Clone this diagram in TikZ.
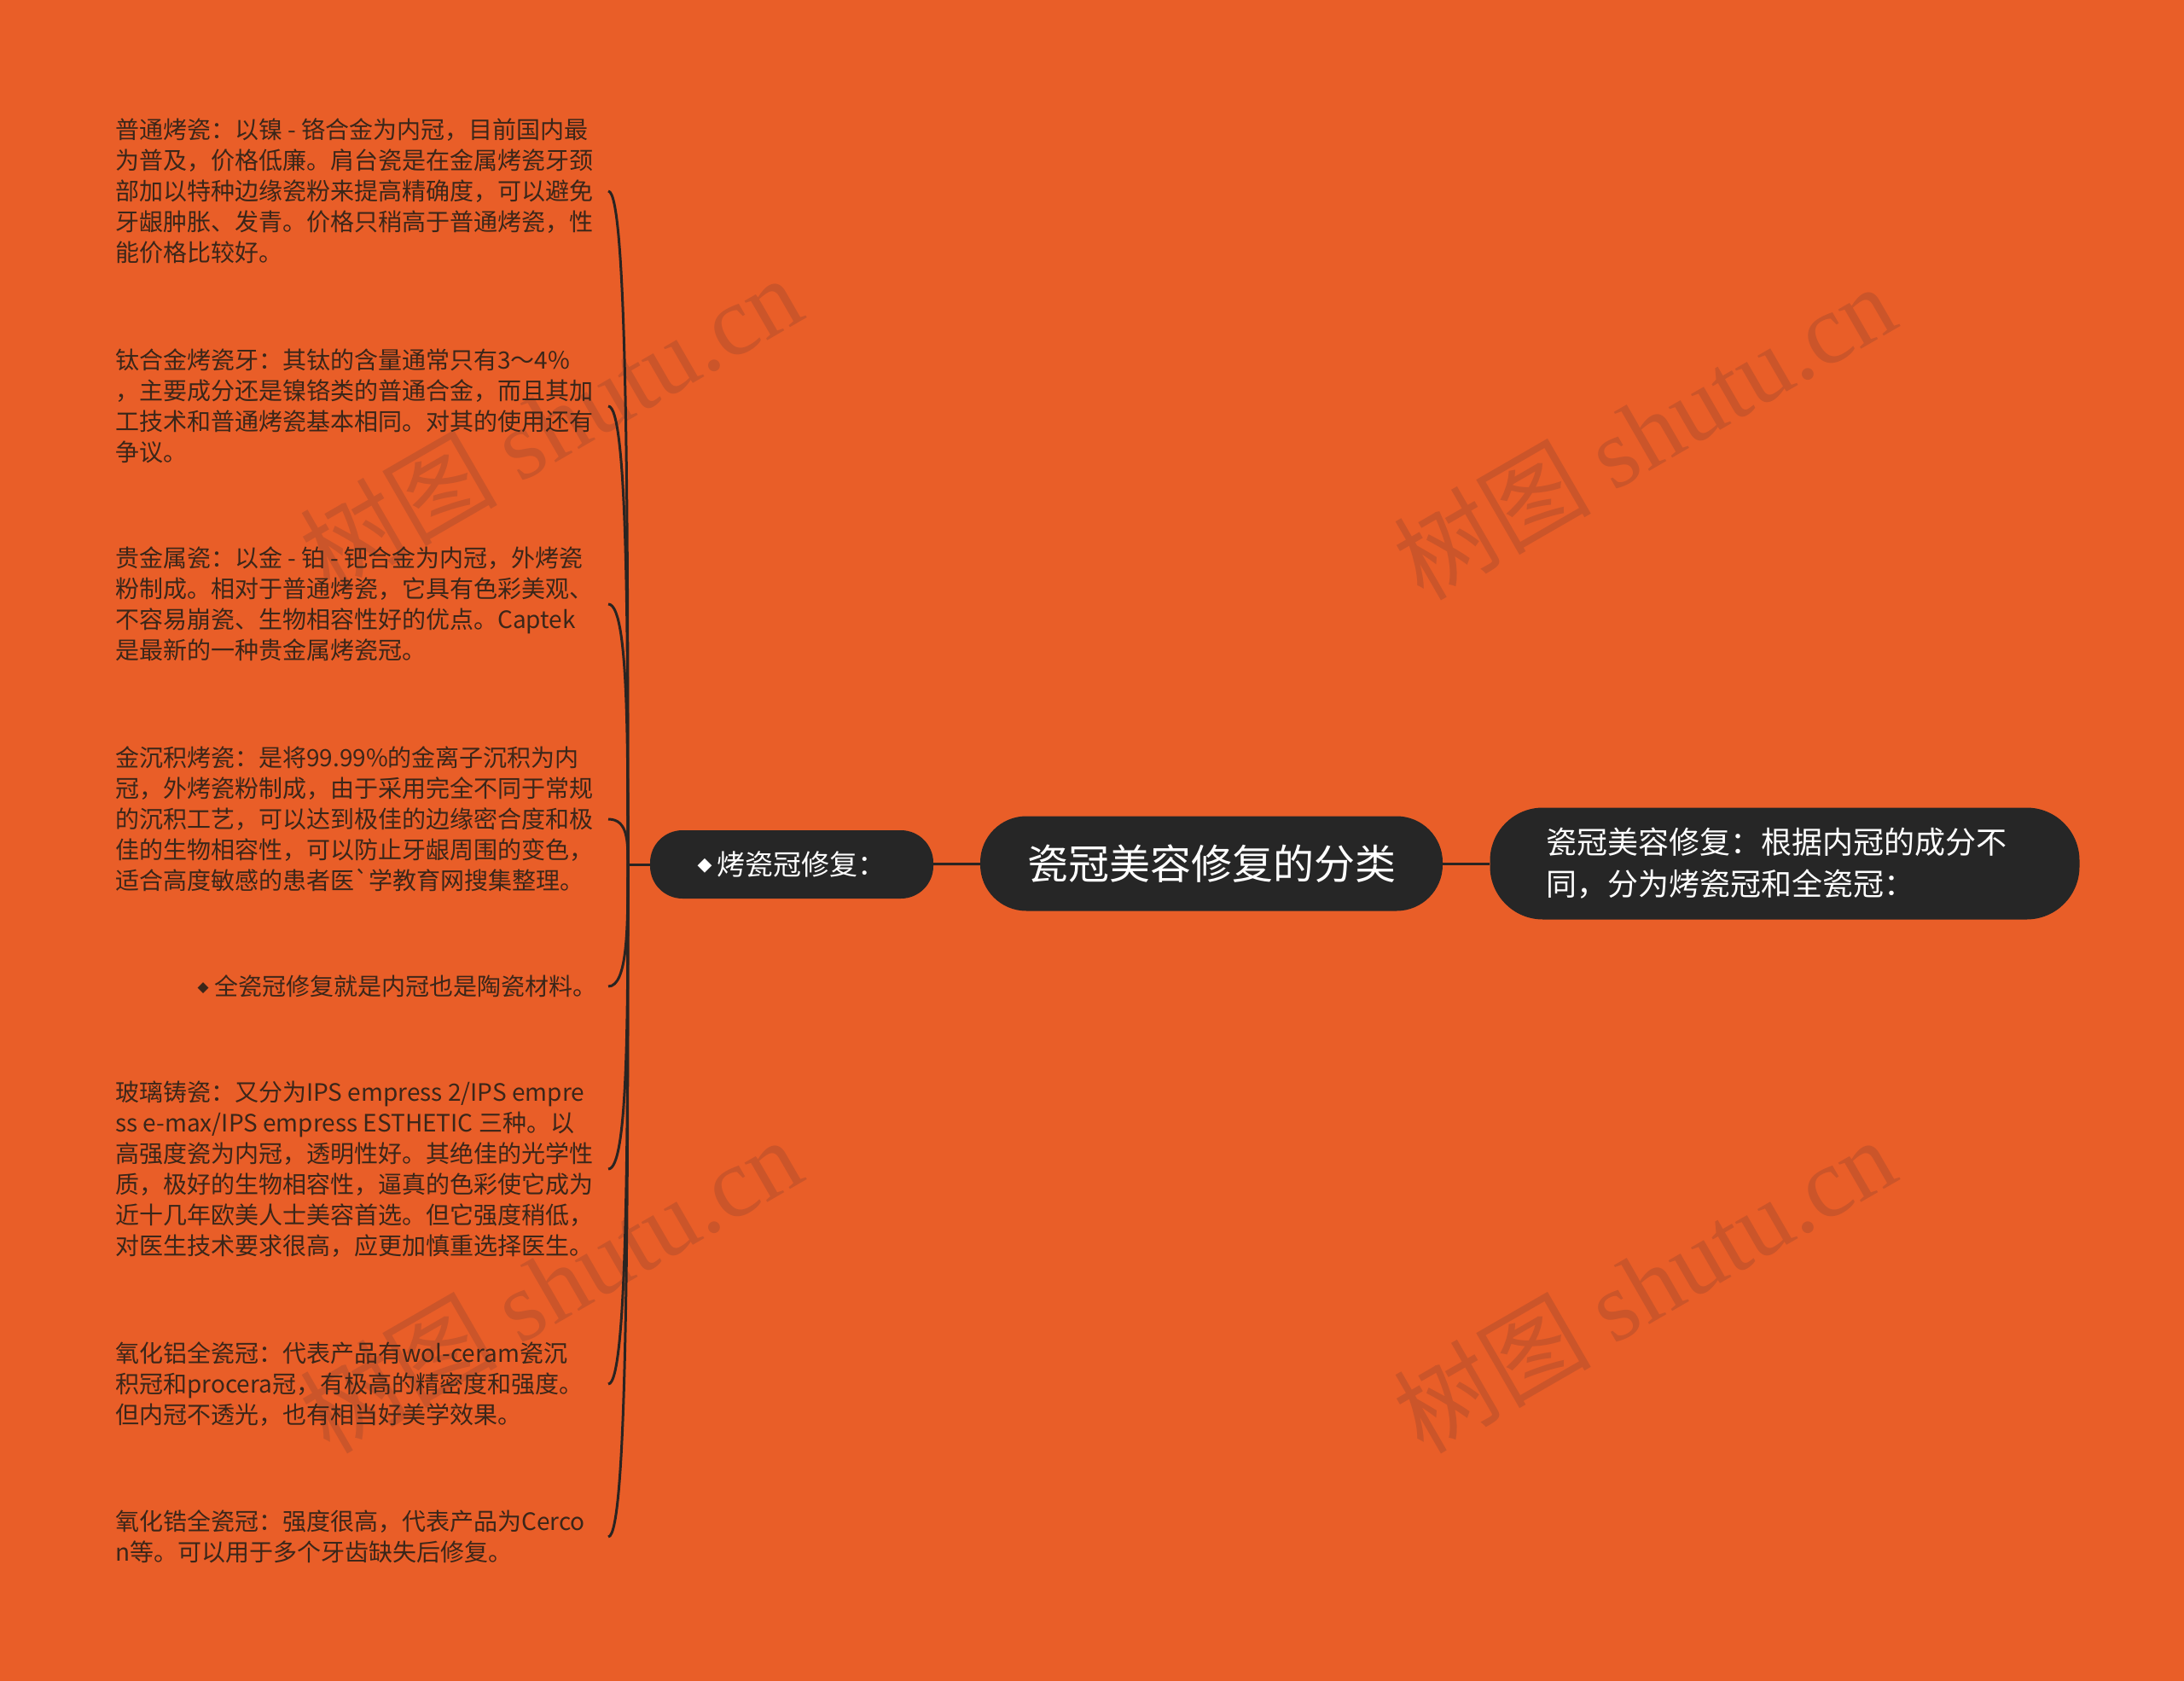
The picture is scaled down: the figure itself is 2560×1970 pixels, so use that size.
\documentclass[tikz,border=0pt]{standalone}
\usepackage{fontspec}
\setmainfont{Noto Sans CJK SC}[Ligatures=TeXOff]
\newfontfamily\diafont{DejaVu Sans}
\newfontfamily\stampfont{Liberation Serif}
\usepackage{tikz}
\usetikzlibrary{calc}

\definecolor{bgorange}{HTML}{E95E28}
\definecolor{boxgray}{HTML}{262626}
\definecolor{inkbrown}{HTML}{3B2619}
\definecolor{stemgray}{HTML}{2A2421}
\definecolor{markorange}{HTML}{CB552A}

\tikzset{
    topic/.style={fill=boxgray, text=white, inner sep=0pt},
    detail/.style={anchor=west, align=left, inner sep=0pt, text=inkbrown, font=\fontsize{28}{36}\selectfont},
    branch/.style={draw=stemgray, line width=3pt},
    stamp/.style={text=markorange, rotate=30, font=\fontsize{116}{116}\selectfont},
}

\begin{document}
\begin{tikzpicture}[x=1pt, y=-1pt]
            \fill[bgorange] (0,0) rectangle (2560,1970);
            \useasboundingbox (0,0) rectangle (2560,1970);

            % watermarks
            \node[stamp] (mark1) at (645,495) {树图 {\stampfont shutu.cn}};
            \node[stamp] (mark2) at (1927,505) {树图 {\stampfont shutu.cn}};
            \node[stamp] (mark3) at (645,1505) {树图 {\stampfont shutu.cn}};
            \node[stamp] (mark4) at (1927,1505) {树图 {\stampfont shutu.cn}};

            \node[topic, minimum width=542, minimum height=111, rounded corners=54, font=\fontsize{48}{56}\selectfont] (root) at (1420,1012) {瓷冠美容修复的分类};
            \node[topic, minimum width=691, minimum height=131, rounded corners=62, align=left, font=\fontsize{36}{49}\selectfont] (summary) at (2092,1012) {瓷冠美容修复：根据内冠的成分不\hspace*{20pt}\\同，分为烤瓷冠和全瓷冠：};
            \node[topic, minimum width=332, minimum height=80, rounded corners=38, font=\fontsize{33}{40}\selectfont] (porcelain) at (928,1013) {\raisebox{5pt}{\diafont\fontsize{22}{22}\selectfont ◆}\hspace{6pt}烤瓷冠修复：};

            \node[detail] (common) at (135,224) {普通烤瓷：以镍 - 铬合金为内冠，目前国内最\\为普及，价格低廉。肩台瓷是在金属烤瓷牙颈\\部加以特种边缘瓷粉来提高精确度，可以避免\\牙龈肿胀、发青。价格只稍高于普通烤瓷，性\\能价格比较好。};
            \node[detail] (titanium) at (135,476) {钛合金烤瓷牙：其钛的含量通常只有3～4\%\\，主要成分还是镍铬类的普通合金，而且其加\\工技术和普通烤瓷基本相同。对其的使用还有\\争议。};
            \node[detail] (precious) at (135,708) {贵金属瓷：以金 - 铂 - 钯合金为内冠，外烤瓷\\粉制成。相对于普通烤瓷，它具有色彩美观、\\不容易崩瓷、生物相容性好的优点。Captek\\是最新的一种贵金属烤瓷冠。};
            \node[detail] (gold) at (135,960) {金沉积烤瓷：是将99.99\%的金离子沉积为内\\冠，外烤瓷粉制成，由于采用完全不同于常规\\的沉积工艺，可以达到极佳的边缘密合度和极\\佳的生物相容性，可以防止牙龈周围的变色，\\适合高度敏感的患者医`学教育网搜集整理。};
            \node[detail, anchor=east] (allceramic) at (700,1156) {\raisebox{4pt}{\diafont\fontsize{17}{17}\selectfont ◆}\hspace{7pt}全瓷冠修复就是内冠也是陶瓷材料。};
            \node[detail] (glass) at (135,1370) {玻璃铸瓷：又分为IPS empress 2/IPS empre\\ss e-max/IPS empress ESTHETIC 三种。以\\高强度瓷为内冠，透明性好。其绝佳的光学性\\质，极好的生物相容性，逼真的色彩使它成为\\近十几年欧美人士美容首选。但它强度稍低，\\对医生技术要求很高，应更加慎重选择医生。};
            \node[detail] (alumina) at (135,1622) {氧化铝全瓷冠：代表产品有wol-ceram瓷沉\\积冠和procera冠，有极高的精密度和强度。\\但内冠不透光，也有相当好美学效果。};
            \node[detail] (zirconia) at (135,1801) {氧化锆全瓷冠：强度很高，代表产品为Cerco\\n等。可以用于多个牙齿缺失后修复。};

            \coordinate (fork) at (736,1013);
            \coordinate (tips) at (713,0);

            \draw[branch] (root) -- (summary);
            \draw[branch] (root) -- (porcelain);
            \draw[branch] (porcelain.west) -- (fork);
            \draw[branch] (fork) .. controls ($(fork)!0.5!(fork |- common)$) and (fork |- common) .. (common -| tips);
            \draw[branch] (fork) .. controls ($(fork)!0.5!(fork |- titanium)$) and (fork |- titanium) .. (titanium -| tips);
            \draw[branch] (fork) .. controls ($(fork)!0.5!(fork |- precious)$) and (fork |- precious) .. (precious -| tips);
            \draw[branch] (fork) .. controls ($(fork)!0.5!(fork |- gold)$) and (fork |- gold) .. (gold -| tips);
            \draw[branch] (fork) .. controls ($(fork)!0.5!(fork |- allceramic)$) and (fork |- allceramic) .. (allceramic -| tips);
            \draw[branch] (fork) .. controls ($(fork)!0.5!(fork |- glass)$) and (fork |- glass) .. (glass -| tips);
            \draw[branch] (fork) .. controls ($(fork)!0.5!(fork |- alumina)$) and (fork |- alumina) .. (alumina -| tips);
            \draw[branch] (fork) .. controls ($(fork)!0.5!(fork |- zirconia)$) and (fork |- zirconia) .. (zirconia -| tips);
        \end{tikzpicture}
\end{document}
